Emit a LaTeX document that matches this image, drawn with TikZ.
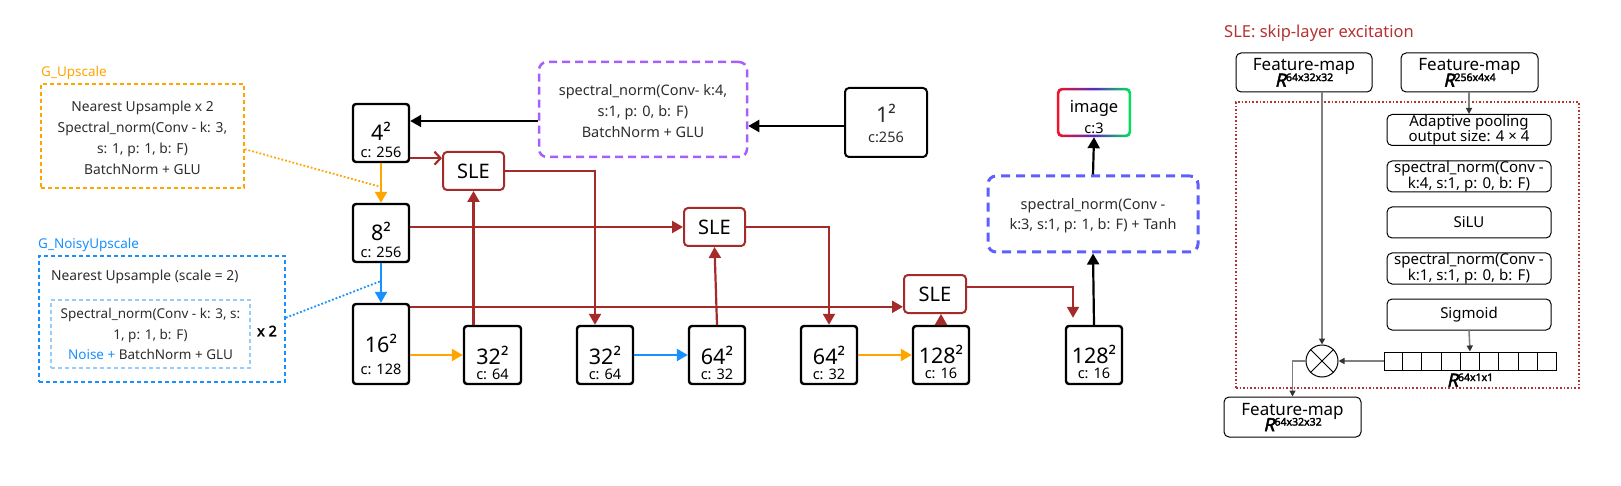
\documentclass[tikz,border=0pt]{standalone}
\usepackage{fontspec}
\setmainfont{Noto Sans}
\newfontfamily\fbold{Noto Sans}[FakeBold=2.5]
\newfontfamily\fbolditalic{Noto Sans}[FakeBold=2.5,FakeSlant=0.22]
\usetikzlibrary{arrows.meta,calc}
\definecolor{cOrange}{RGB}{255,165,0}
\definecolor{cBlue}{RGB}{24,144,255}
\definecolor{cLBlue}{RGB}{150,205,250}
\definecolor{cBrown}{RGB}{165,42,42}
\definecolor{cPurple}{RGB}{165,95,250}
\definecolor{cTanh}{RGB}{95,95,255}
\definecolor{cGray}{RGB}{128,128,128}
\definecolor{cText}{RGB}{45,45,45}
\definecolor{cTitle}{RGB}{180,50,50}
\definecolor{imgR}{RGB}{240,20,40}
\definecolor{imgP}{RGB}{90,40,190}
\definecolor{imgG}{RGB}{0,230,90}
\newcommand{\fs}[1]{\fontsize{#1}{#1}\selectfont}
\newcommand{\Rdim}[1]{{\fontsize{18}{18}\selectfont\fbolditalic R}\raisebox{5.5pt}{\fontsize{10.5}{10.5}\selectfont\fbold #1}}
\begin{document}
\begin{tikzpicture}[x=1pt,y=-1pt,
  bx/.style={draw, line width=2.4pt, rounded corners=3pt, inner sep=0pt},
  bignum/.style={font=\fs{21.5}, inner sep=0pt},
  chan/.style={font=\fs{14.5}, inner sep=0pt},
  sle/.style={draw=cBrown, line width=2pt, rounded corners=4pt, font=\fs{20}, inner sep=0pt, minimum width=61pt, minimum height=38pt},
  slel/.style={draw=cBrown, line width=2.2pt, -{Triangle[length=11pt,width=12pt]}},
  orl/.style={draw=cOrange, line width=2.2pt, -{Triangle[length=11pt,width=12pt]}},
  bll/.style={draw=cBlue, line width=2.2pt, -{Triangle[length=11pt,width=12pt]}},
  bkl/.style={draw=black, line width=2.2pt, -{Triangle[length=11pt,width=12pt]}},
  gtext/.style={font=\fontsize{13.8}{21}\selectfont, text=cText, align=center, inner sep=0pt},
  sbox/.style={draw, line width=1pt, rounded corners=5pt, minimum width=164pt, minimum height=31pt, inner sep=0pt, align=center, font=\fontsize{15}{14.5}\selectfont},
  fmbox/.style={draw, line width=1pt, rounded corners=5pt, minimum width=137pt, minimum height=39pt, inner sep=0pt, align=center, font=\fontsize{17}{19}\selectfont},
  garr/.style={draw=cGray, line width=1.6pt, -{Triangle[length=6pt,width=6pt,color=black!80]}}
]
\useasboundingbox (0,0) rectangle (1621,486);

% ---------- left legend boxes ----------
\node[draw=cOrange, line width=1.6pt, dash pattern=on 4pt off 3pt, minimum width=203pt, minimum height=104pt, inner sep=0pt] (gup) at (142.5,136) {};
\node[anchor=west, text=cOrange, font=\fs{13.5}, inner sep=0pt] (gupl) at (41,73) {G\_Upscale};
\node[gtext] (gupt) at (142.5,137.5) {Nearest Upsample x 2\\Spectral\_norm(Conv - k: 3,\\s: 1, p: 1, b: F)\\BatchNorm + GLU};

\node[draw=cBlue, line width=1.8pt, dash pattern=on 4pt off 3pt, minimum width=246pt, minimum height=126pt, inner sep=0pt] (gnu) at (162,319) {};
\node[anchor=west, text=cBlue, font=\fs{13.5}, inner sep=0pt] (gnul) at (38,245) {G\_NoisyUpscale};
\node[anchor=west, font=\fs{13.8}, text=cText, inner sep=0pt] (gnut) at (51,277) {Nearest Upsample (scale = 2)};
\node[draw=cLBlue, line width=1.5pt, dash pattern=on 4pt off 3pt, minimum width=199pt, minimum height=68pt, inner sep=0pt] (gin) at (150.5,334) {};
\node[gtext, font=\fontsize{13.5}{20.5}\selectfont] (gint) at (150.5,334) {Spectral\_norm(Conv - k: 3, s:\\1, p: 1, b: F)\\{\color{cBlue}Noise +} BatchNorm + GLU};
\node[font=\fbold\fs{14.5}, inner sep=0pt] (x2) at (267,331) {x 2};

% ---------- main boxes ----------
\node[bx, minimum width=56pt, minimum height=58pt] (b4) at (381,133) {};
\node[bignum] (b4t) at (381,131) {4²};
\node[chan] (b4c) at (381,152) {c: 256};
\node[bx, minimum width=56pt, minimum height=58pt] (b8) at (381,233) {};
\node[bignum] (b8t) at (381,231) {8²};
\node[chan] (b8c) at (381,252) {c: 256};
\node[bx, minimum width=56pt, minimum height=80pt] (b16) at (381,344) {};
\node[bignum] (b16t) at (381,343) {16²};
\node[chan] (b16c) at (381,369) {c: 128};

\node[bx, minimum width=57pt, minimum height=58pt] (b32a) at (492.5,355) {};
\node[bignum] (b32at) at (492.5,355) {32²};
\node[chan] (b32ac) at (492.5,374) {c: 64};
\node[bx, minimum width=56pt, minimum height=58pt] (b32b) at (605,355) {};
\node[bignum] (b32bt) at (605,355) {32²};
\node[chan] (b32bc) at (605,374) {c: 64};
\node[bx, minimum width=56pt, minimum height=58pt] (b64a) at (717,355) {};
\node[bignum] (b64at) at (717,355) {64²};
\node[chan] (b64ac) at (717,374) {c: 32};
\node[bx, minimum width=56pt, minimum height=58pt] (b64b) at (829,355) {};
\node[bignum] (b64bt) at (829,355) {64²};
\node[chan] (b64bc) at (829,374) {c: 32};
\node[bx, minimum width=56pt, minimum height=58pt] (b128a) at (941,355) {};
\node[bignum] (b128at) at (941,354) {128²};
\node[chan] (b128ac) at (941,373) {c: 16};
\node[bx, minimum width=56pt, minimum height=58pt] (b128b) at (1094,355) {};
\node[bignum] (b128bt) at (1094,354) {128²};
\node[chan] (b128bc) at (1094,373) {c: 16};

\node[draw, line width=2pt, rounded corners=4pt, minimum width=82pt, minimum height=69pt, inner sep=0pt] (b1) at (886,122.5) {};
\node[bignum, text=cText] (b1t) at (886,113) {1²};
\node[chan, text=cText] (b1c) at (886,137) {c:256};

% image box with gradient border
\node[minimum width=74pt, minimum height=49pt, inner sep=0pt] (img) at (1094,112.5) {};
\shade[rounded corners=5pt, left color=imgR, right color=imgG, middle color=imgP] (img.north west) rectangle (img.south east);
\fill[white, rounded corners=3.5pt] ([shift={(2.6,2.6)}]img.north west) rectangle ([shift={(-2.6,-2.6)}]img.south east);
\node[font=\fs{16.5}, inner sep=0pt] (imgt) at (1094,108) {image};
\node[chan] (imgc) at (1094,128) {c:3};

% dashed operation boxes
\node[draw=cPurple, line width=2.5pt, dash pattern=on 8pt off 5pt, rounded corners=8pt, minimum width=208pt, minimum height=95pt, inner sep=0pt] (pb) at (643,109.5) {};
\node[gtext, font=\fontsize{14.5}{21}\selectfont] (pbt) at (643,111) {spectral\_norm(Conv- k:4,\\s:1, p: 0, b: F)\\BatchNorm + GLU};
\node[draw=cTanh, line width=3pt, dash pattern=on 9pt off 6pt, rounded corners=8pt, minimum width=210pt, minimum height=76pt, inner sep=0pt] (tb) at (1093,214) {};
\node[gtext, font=\fontsize{14.5}{20}\selectfont] (tbt) at (1093,216) {spectral\_norm(Conv -\\k:3, s:1, p: 1, b: F) + Tanh};

% SLE boxes
\node[sle] (s1) at (473.5,171) {SLE};
\node[sle] (s2) at (714.5,227) {SLE};
\node[sle, minimum width=62pt] (s3) at (935,294) {SLE};

% ---------- connectors ----------
\coordinate (oa) at ($(b4.south)!0.6!(b8.north)$);
\coordinate (ba) at ($(b8.south)!0.45!(b16.north)$);
\draw[orl] (b4.south) -- (b8.north);
\draw[bll] (b8.south) -- (b16.north);
\draw[cOrange, line width=1.8pt, dotted] ($(gup.north east)!0.625!(gup.south east)$) -- (oa);
\draw[cBlue, line width=1.8pt, dotted] ($(gnu.north east)!0.49!(gnu.south east)$) -- (ba);

\draw[orl] (b32a.west -| b16.east) -- (b32a.west);
\draw[bll] (b32b.east) -- (b64a.west);
\draw[orl] (b64b.east) -- (b128a.west);

\draw[bkl] ([yshift=-3.5pt]b1.west) -- ([yshift=-3.5pt]b1.west -| pb.east);
\draw[bkl] ([yshift=12pt]b4.east -| pb.west) -- ([yshift=12pt]b4.east);
\draw[bkl] (b128b.north) -- (tb.south);
\draw[bkl] (tb.north) -- (img.south);

\draw[draw=cBrown, line width=2.2pt, -{Straight Barb[length=6pt,width=13pt]}] ([yshift=5pt]b4.south east) -- ([yshift=5pt]b4.south east -| s1.west);
\draw[slel] (s1.east) -| ([xshift=-10pt]b32b.north);
\draw[slel] (b32a.north -| s1.south) -- (s1.south);
\draw[slel] (b8.east |- s2.west) -- (s2.west);
\draw[slel] (s2.east) -| (b64b.north);
\draw[slel] (b64a.north) -- (s2.south);
\draw[slel] ([yshift=-4pt]b16.north east) -- ([yshift=-4pt]b16.north east -| s3.west);
\draw[slel] (b128a.north) -- (b128a.north |- s3.south);
\draw[slel] ([yshift=7pt]s3.east) -| ([xshift=-21pt,yshift=7pt]b128b.north);

% ---------- SLE panel ----------
\node[anchor=west, text=cTitle, font=\fs{16.5}, inner sep=0pt] (title) at (1224,33) {SLE: skip-layer excitation};
\node[draw=cTitle, line width=1.6pt, dotted, minimum width=343pt, minimum height=286pt, inner sep=0pt] (slebox) at (1407.5,245) {};
\node[fmbox, minimum width=136pt] (fm1) at (1304,72.5) {Feature-map\\[-3pt]\Rdim{64x32x32}};
\node[fmbox] (fm2) at (1469.5,72.5) {Feature-map\\[-3pt]\Rdim{256x4x4}};
\node[fmbox, minimum height=40pt] (fm3) at (1292.5,417) {Feature-map\\[-3pt]\Rdim{64x32x32}};

\node[sbox] (ad) at (1469,130) {Adaptive pooling\\output size: 4 × 4};
\node[sbox] (sn1) at (1469,176.5) {spectral\_norm(Conv -\\k:4, s:1, p: 0, b: F)};
\node[sbox] (silu) at (1469,222.5) {SiLU};
\node[sbox] (sn2) at (1469,268.5) {spectral\_norm(Conv -\\k:1, s:1, p: 0, b: F)};
\node[sbox] (sig) at (1469,314.5) {Sigmoid};

\node[draw, line width=1pt, minimum width=172pt, minimum height=18pt, inner sep=0pt] (vec) at (1470,361) {};
\foreach \i in {1,...,8}
  \draw[line width=1pt] ($(vec.north west)!\i/9!(vec.north east)$) -- ($(vec.south west)!\i/9!(vec.south east)$);
\node[inner sep=0pt] (vecl) at (1470,380) {\Rdim{64x1x1}};

\node[draw, circle, line width=1pt, minimum size=32pt, inner sep=0pt] (ot) at (1322,361) {};
\draw[line width=1pt] (ot.north west) -- (ot.south east) (ot.north east) -- (ot.south west);

\draw[garr] (fm2.south -| ad.north) -- (ad.north);
\draw[garr] (sig.south) -- (vec.north);
\draw[garr] (ot.north |- fm1.south) -- (ot.north);
\draw[garr, line width=2.4pt] (vec.west) -- (ot.east);
\draw[garr] (ot.west) -| (fm3.north);
\end{tikzpicture}
\end{document}
